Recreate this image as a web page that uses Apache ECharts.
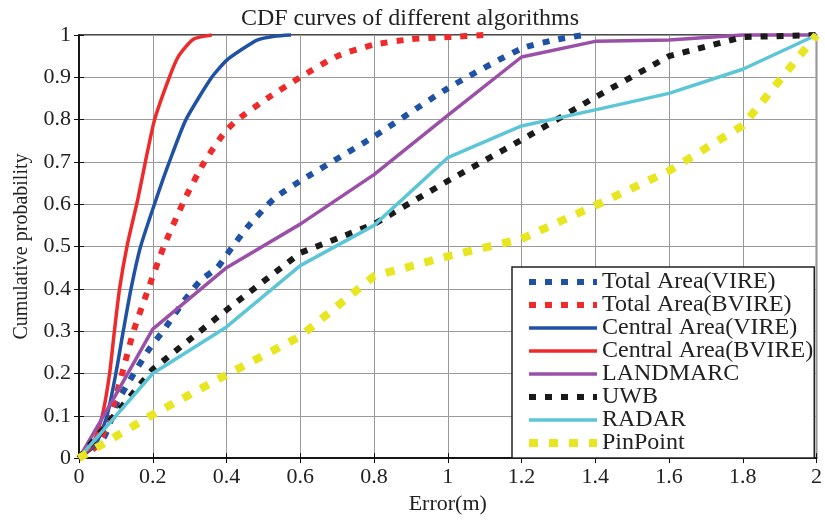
<!DOCTYPE html>
<html><head><meta charset="utf-8">
<script src="https://cdn.jsdelivr.net/npm/echarts@6/dist/echarts.min.js"></script>
<style>html,body{margin:0;padding:0;background:#fff}#c{width:825px;height:520px}</style>
</head><body><div id="c"></div>
<script>
const seriesNames = ['Total Area(VIRE)','Total Area(BVIRE)','Central Area(VIRE)','Central Area(BVIRE)','LANDMARC','UWB','RADAR','PinPoint'];
const totalVireX = [0,0.068,0.103,0.149,0.19,0.23,0.287,0.33,0.375,0.4,0.455,0.53,0.6,0.8,1.0,1.2,1.3,1.37];
const totalVireY = [0,0.05,0.131,0.2,0.257,0.303,0.374,0.42,0.45,0.48,0.544,0.614,0.655,0.76,0.874,0.968,0.99,1];
const totalBvireX = [0,0.05,0.085,0.117,0.148,0.188,0.23,0.288,0.34,0.395,0.43,0.51,0.6,0.7,0.8,0.9,1.0,1.1];
const totalBvireY = [0,0.03,0.1,0.2,0.3,0.4,0.5,0.614,0.7,0.77,0.8,0.85,0.9,0.95,0.977,0.99,0.995,1];
const centralVireX = [0,0.044,0.076,0.10,0.12,0.141,0.167,0.21,0.245,0.29,0.36,0.40,0.44,0.483,0.53,0.575];
const centralVireY = [0,0.03,0.1,0.2,0.3,0.4,0.5,0.614,0.7,0.8,0.9,0.94,0.965,0.988,0.997,1];
const centralBvireX = [0,0.036,0.063,0.083,0.096,0.11,0.13,0.16,0.18,0.205,0.245,0.27,0.31,0.36];
const centralBvireY = [0,0.03,0.1,0.2,0.3,0.4,0.5,0.614,0.7,0.8,0.9,0.95,0.99,1];
const errX = [0,0.2,0.4,0.6,0.8,1.0,1.2,1.4,1.6,1.8,2.0];
const landmarcX = [0,0.1,0.2,0.4,0.6,0.8,1.0,1.2,1.4,1.6,1.8,2.0];
const landmarcY = [0,0.15,0.305,0.45,0.553,0.67,0.81,0.948,0.985,0.988,1,1];
const uwbY = [0,0.21,0.35,0.485,0.553,0.655,0.752,0.853,0.95,0.995,1];
const radarY = [0,0.2,0.31,0.455,0.55,0.71,0.785,0.823,0.862,0.919,1];
const pinpointY = [0,0.103,0.197,0.288,0.43,0.477,0.518,0.597,0.679,0.786,1];

const pair = (xs, ys) => xs.map((x, i) => [x, ys[i]]);
const FONT = "'Liberation Serif', 'Times New Roman', serif";
const styles = [
  {color:'#1f52a5', width:6, type:[7,9]},
  {color:'#ee2a2a', width:6, type:[7,9]},
  {color:'#1f52a5', width:3.5, type:'solid'},
  {color:'#ee2a2a', width:3.5, type:'solid'},
  {color:'#9a50a6', width:3.5, type:'solid'},
  {color:'#1a1a1a', width:6, type:[7,9]},
  {color:'#5cc6d6', width:3.5, type:'solid'},
  {color:'#e8e620', width:8, type:[9,11]}
];
const datas = [
  pair(totalVireX, totalVireY),
  pair(totalBvireX, totalBvireY),
  pair(centralVireX, centralVireY),
  pair(centralBvireX, centralBvireY),
  pair(landmarcX, landmarcY),
  pair(errX, uwbY),
  pair(errX, radarY),
  pair(errX, pinpointY)
];
const smoothFlags = [0.2,0.2,0.2,0.2,false,false,false,false];
const series = seriesNames.map((n, i) => ({
  name: n, type: 'line', data: datas[i], symbol: 'none', smooth: smoothFlags[i],
  clip: false,
  lineStyle: {color: styles[i].color, width: styles[i].width, type: styles[i].type, cap: 'butt', join: 'round'},
  itemStyle: {color: styles[i].color},
  z: 2 + i
}));

const chart = echarts.init(document.getElementById('c'), null, {renderer: 'canvas'});
chart.setOption({
  animation: false,
  backgroundColor: '#fff',
  title: {text: 'CDF curves of different algorithms', left: 405, textAlign: 'center', top: 2,
    textStyle: {fontFamily: FONT, fontSize: 24, fontWeight: 'normal', color: '#222'}},
  grid: {left: 79, right: 5, top: 35, bottom: 57, show: true, borderColor: '#111', borderWidth: 1.5, backgroundColor: 'transparent'},
  legend: {
    orient: 'vertical', left: 512, top: 267, itemGap: -1, itemWidth: 68, itemHeight: 23,
    padding: [3, 1, 3, 13], backgroundColor: '#fff', borderColor: '#222', borderWidth: 1.5,
    itemStyle: {opacity: 0},
    lineStyle: {width: 'inherit', type: 'inherit', cap: 'butt'},
    textStyle: {fontFamily: FONT, fontSize: 24, color: '#222', padding: [0, 0, 0, 0], lineHeight: 23},
    data: seriesNames
  },
  xAxis: [{
    type: 'value', min: 0, max: 2, interval: 0.2,
    name: 'Error(m)', nameLocation: 'middle', nameGap: 34,
    nameTextStyle: {fontFamily: FONT, fontSize: 22, color: '#222'},
    axisLine: {show: true, lineStyle: {color: '#111', width: 1.5}},
    axisTick: {show: true, inside: true, length: 5, lineStyle: {color: '#111'}},
    axisLabel: {fontFamily: FONT, fontSize: 22, color: '#222', margin: 8, formatter: v => String(+v.toFixed(1))},
    splitLine: {show: true, lineStyle: {color: '#9a9a9a', width: 1}}
  }, {
    type: 'value', min: 0, max: 2, interval: 0.2, position: 'top',
    axisLine: {show: true, lineStyle: {color: '#111', width: 1.5}},
    axisTick: {show: true, inside: true, length: 5, lineStyle: {color: '#111'}},
    axisLabel: {show: false}, splitLine: {show: false}
  }],
  yAxis: [{
    type: 'value', min: 0, max: 1, interval: 0.1,
    name: 'Cumulative probability', nameLocation: 'middle', nameGap: 47, nameRotate: 90,
    nameTextStyle: {fontFamily: FONT, fontSize: 20, color: '#222'},
    axisLine: {show: true, lineStyle: {color: '#111', width: 1.5}},
    axisTick: {show: true, inside: true, length: 5, lineStyle: {color: '#111'}},
    axisLabel: {fontFamily: FONT, fontSize: 22, color: '#222', margin: 8, formatter: v => String(+v.toFixed(1))},
    splitLine: {show: true, lineStyle: {color: '#9a9a9a', width: 1}}
  }, {
    type: 'value', min: 0, max: 1, interval: 0.1, position: 'right',
    axisLine: {show: true, lineStyle: {color: '#111', width: 1.5}},
    axisTick: {show: true, inside: true, length: 5, lineStyle: {color: '#111'}},
    axisLabel: {show: false}, splitLine: {show: false}
  }],
  series: series
});
</script></body></html>
